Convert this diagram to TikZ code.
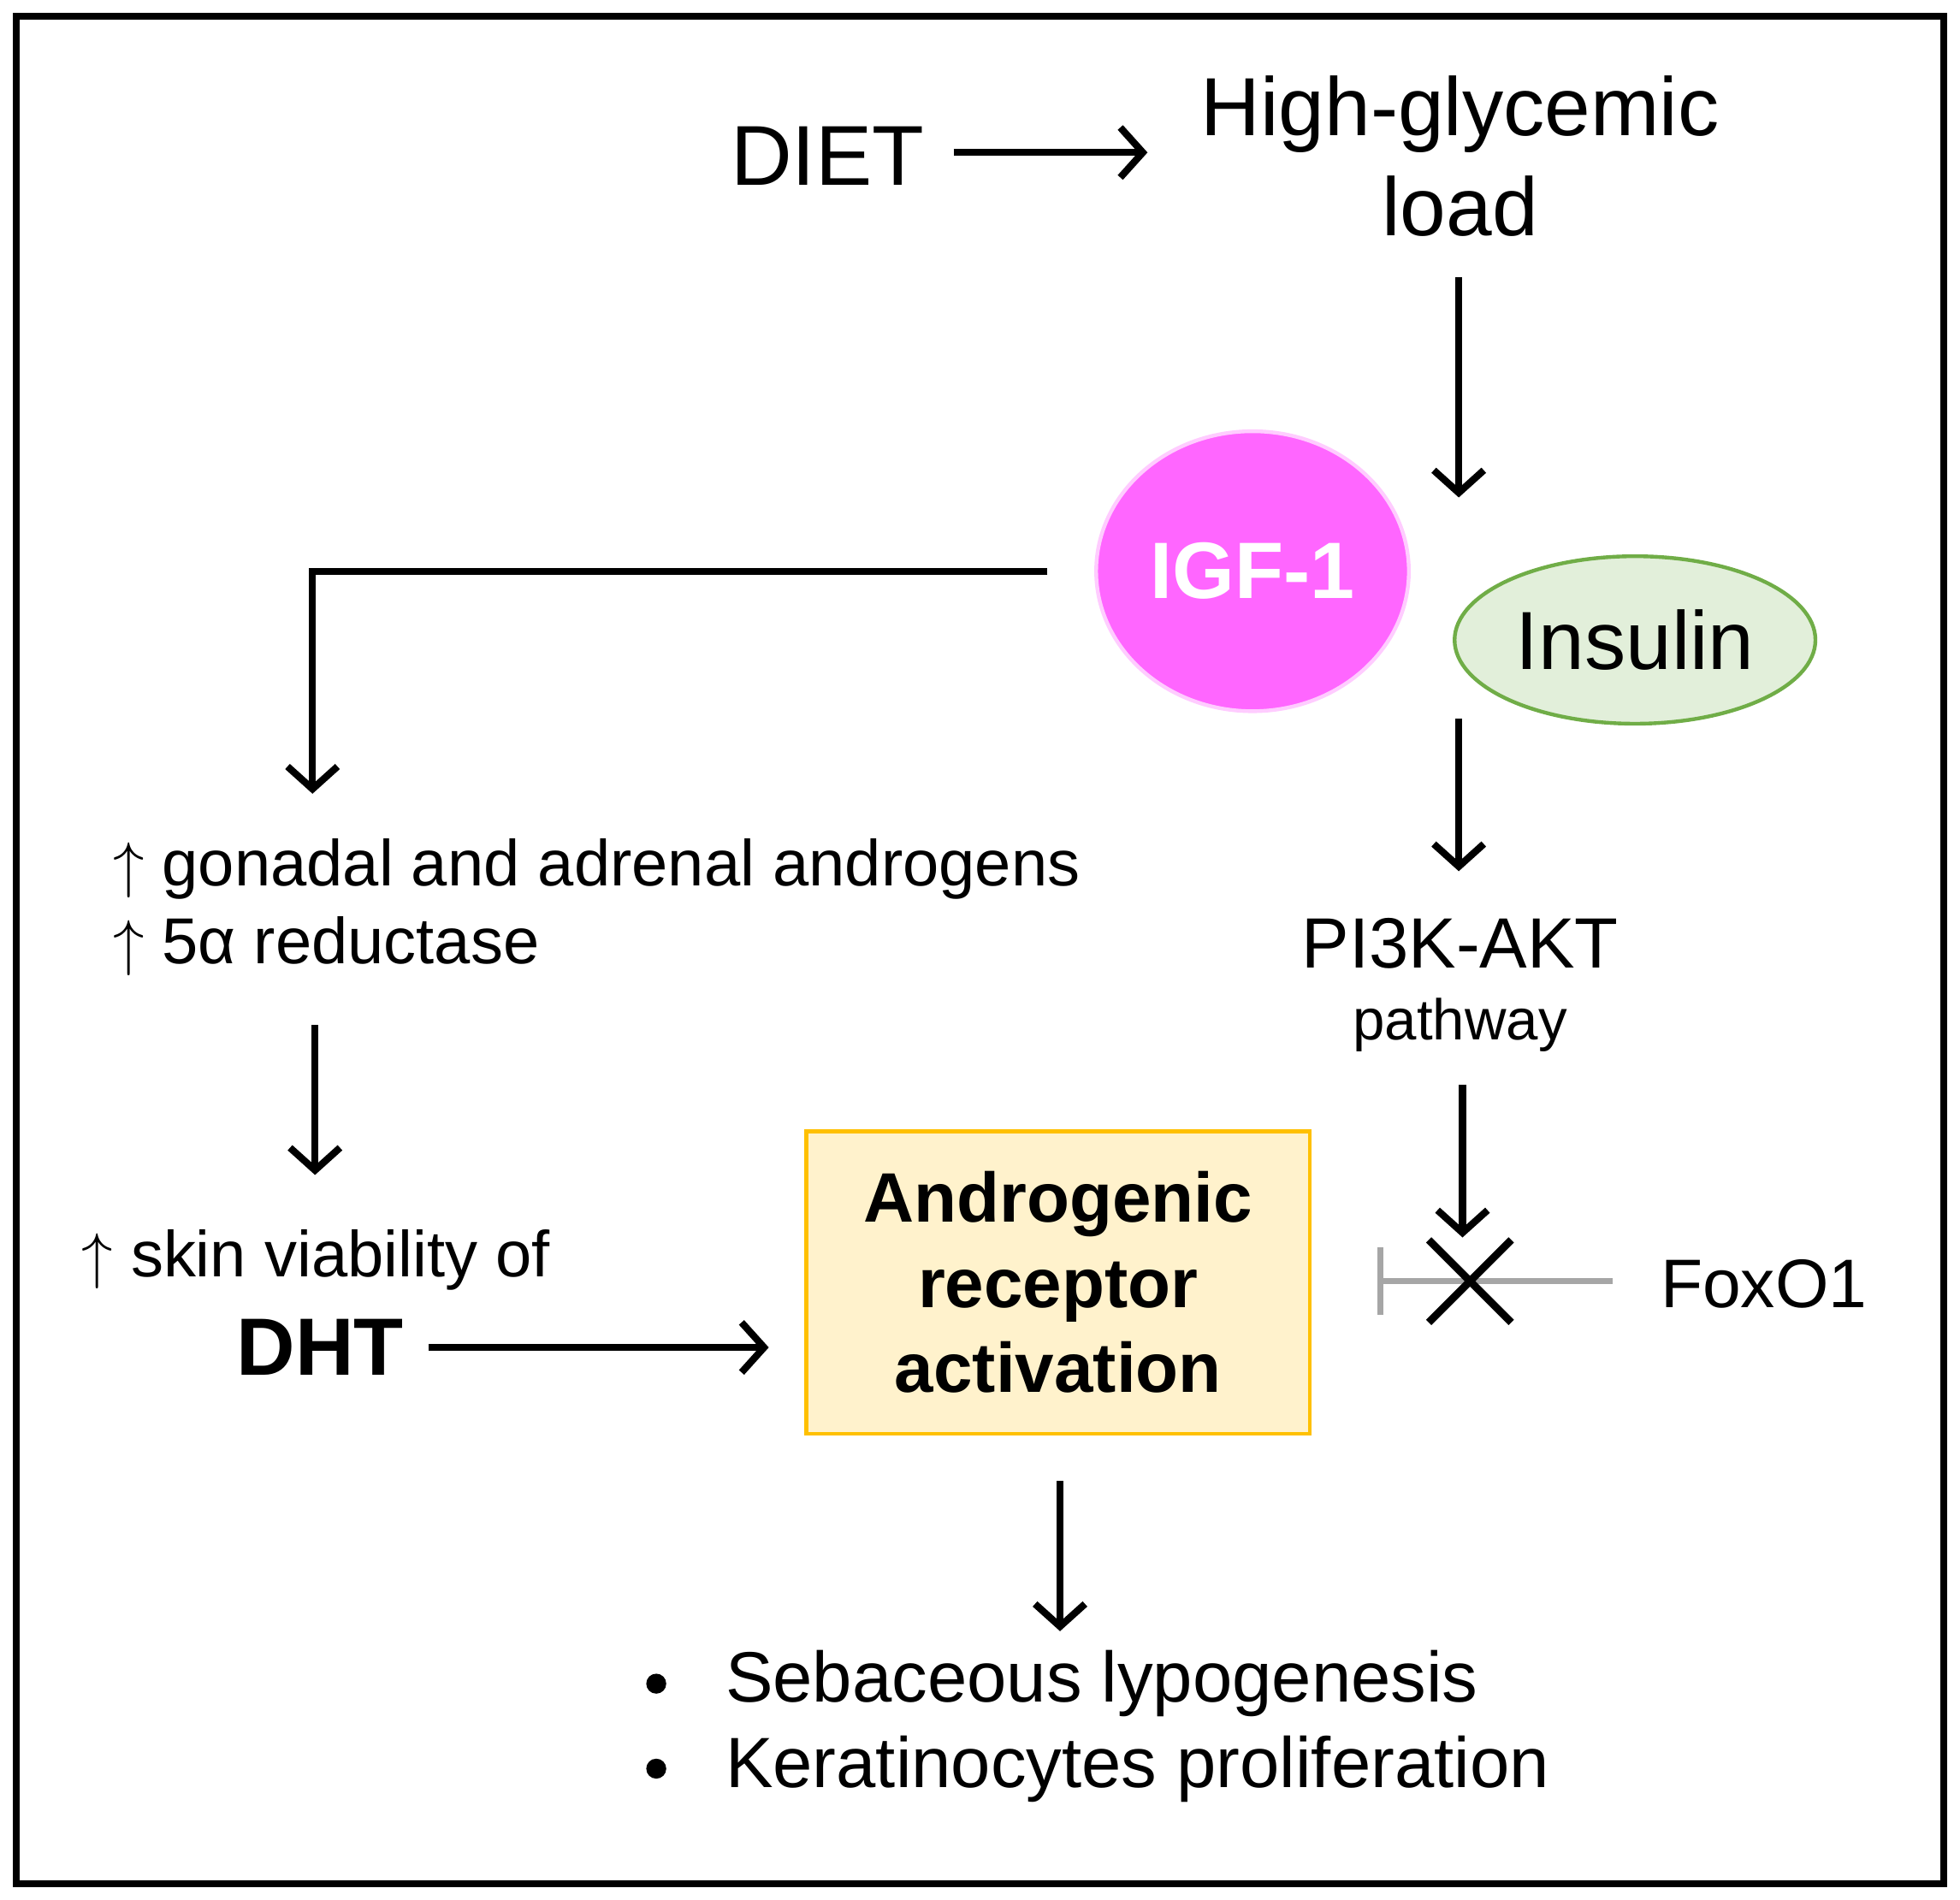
\documentclass[tikz,border=0pt]{standalone}
\usepackage{fontspec}
\setmainfont{Liberation Sans}
\usetikzlibrary{arrows.meta,shapes.geometric}
\definecolor{igf}{HTML}{FF66FF}
\definecolor{igfb}{HTML}{FFCCFF}
\definecolor{insf}{HTML}{E2EFDA}
\definecolor{insb}{HTML}{70AD47}
\definecolor{boxf}{HTML}{FFF2CC}
\definecolor{boxb}{HTML}{FFC000}
\definecolor{inh}{HTML}{A6A6A6}
\begin{document}
\begin{tikzpicture}[x=0.5pt,y=-0.5pt,
  arr/.style={line width=2.8pt,-{Straight Barb[length=9pt,width=20pt,line width=2.8pt]}},
  lbl/.style={inner sep=0pt}]
\useasboundingbox (0,0) rectangle (1568,1520);
\draw[line width=2.5pt] (13,13) rectangle (1555,1507);
\node[lbl,font=\fontsize{34}{40}\selectfont] (diet) at (662,125) {DIET};
\node[lbl,align=center,font=\fontsize{33}{40}\selectfont] (hgl) at (1168,125) {High-glycemic\\load};
\coordinate (a1s) at (763,122); \coordinate (a1e) at (918,122);
\draw[arr] (a1s) -- (a1e);
\coordinate (a2s) at (1167,222); \coordinate (a2e) at (1167,398);
\draw[arr] (a2s) -- (a2e);
\node[ellipse,fill=igf,draw=igfb,line width=1.5pt,minimum width=118pt,minimum height=112pt,text=white,font=\fontsize{32}{38}\selectfont\bfseries] (igf) at (1002,457) {IGF-1};
\node[ellipse,fill=insf,draw=insb,line width=1.5pt,minimum width=143pt,minimum height=67pt,font=\fontsize{33}{40}\selectfont] (ins) at (1308,512) {Insulin};
\coordinate (g1) at (838,457); \coordinate (g2) at (250,457); \coordinate (g3) at (250,635);
\draw[arr] (g1) -- (g2) -- (g3);
\coordinate (a3s) at (1167,575); \coordinate (a3e) at (1167,697);
\draw[arr] (a3s) -- (a3e);
\node[lbl,font=\fontsize{28.5}{34}\selectfont] (pi3k) at (1168,755) {PI3K-AKT};
\node[lbl,font=\fontsize{23}{27}\selectfont] (path) at (1168,820) {pathway};
\coordinate (a4s) at (1170,868); \coordinate (a4e) at (1170,990);
\draw[arr] (a4s) -- (a4e);
\coordinate (fs) at (1290,1025); \coordinate (fe) at (1102,1025);
\draw[inh,line width=2.2pt,-{Bar[width=27pt,line width=2.2pt]}] (fs) -- (fe);
\draw[line width=3pt] (1143,992) -- (1209,1058) (1143,1058) -- (1209,992);
\node[lbl,font=\fontsize{27.5}{33}\selectfont] (fox) at (1411,1027) {FoxO1};
\node[lbl,font=\fontsize{26}{31}\selectfont,anchor=west] (gon) at (90,695) {$\uparrow$ gonadal and adrenal androgens};
\node[lbl,font=\fontsize{26}{31}\selectfont,anchor=west] (red) at (90,757) {$\uparrow$ 5α reductase};
\coordinate (a5s) at (252,820); \coordinate (a5e) at (252,940);
\draw[arr] (a5s) -- (a5e);
\node[lbl,font=\fontsize{26}{31}\selectfont,anchor=west] (skin) at (65,1008) {$\uparrow$ skin viability of};
\node[lbl,font=\fontsize{32.5}{40}\selectfont\bfseries] (dht) at (256,1078) {DHT};
\coordinate (a6e) at (615,1078);
\draw[arr] (343,1078) coordinate (a6s) -- (a6e);
\node[draw=boxb,fill=boxf,line width=1.5pt,minimum width=201.5pt,minimum height=121pt,align=center,font=\fontsize{28}{34}\selectfont\bfseries] (box) at (846.5,1026) {Androgenic\\receptor\\activation};
\coordinate (a7s) at (848,1185); \coordinate (a7e) at (848,1305);
\draw[arr] (a7s) -- (a7e);
\node[lbl,font=\fontsize{28.5}{34}\selectfont,anchor=west] (b1) at (580,1347) {Sebaceous lypogenesis};
\node[lbl,font=\fontsize{28.5}{34}\selectfont,anchor=west] (b2) at (580,1415) {Keratinocytes proliferation};
\fill (525,1347) circle (4pt);
\fill (525,1415) circle (4pt);
\end{tikzpicture}
\end{document}
